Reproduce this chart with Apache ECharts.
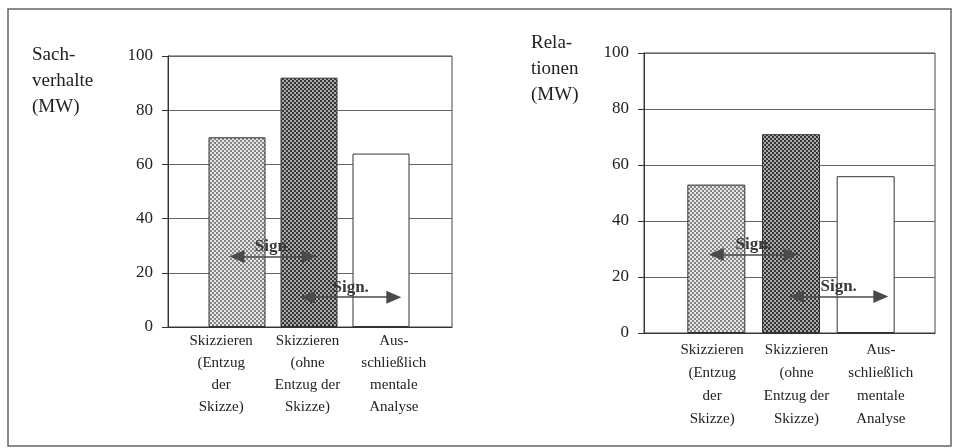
<!DOCTYPE html>
<html>
<head>
<meta charset="utf-8">
<script src="https://cdn.jsdelivr.net/npm/echarts@6/dist/echarts.min.js"></script>
<style>
html, body { margin: 0; padding: 0; background: #fff; }
#main { width: 954px; height: 448px; }
</style>
</head>
<body>
<div id="main"></div>
<script>
// data (MW = Mittelwert)
var categories = ['Skizzieren\n(Entzug\nder\nSkizze)', 'Skizzieren\n(ohne\nEntzug der\nSkizze)', 'Aus-\nschließlich\nmentale\nAnalyse'];
var sachverhalte = [70, 92, 64];
var relationen = [53, 71, 56];
var yMin = 0, yMax = 100, yStep = 20;
// height of the two "Sign." arrows in each panel
var sachSign = [26, 11];
var relSign = [28, 13];

var FONT = 'Liberation Serif';
var INK = '#222';

function dots(bg, fg) {
    var c = document.createElement('canvas');
    c.width = 4; c.height = 4;
    var g = c.getContext('2d');
    g.fillStyle = bg; g.fillRect(0, 0, 4, 4);
    g.fillStyle = fg; g.fillRect(0, 0, 2, 2); g.fillRect(2, 2, 2, 2);
    return { image: c, repeat: 'repeat' };
}
var fills = [dots('#e6e6e6', '#858585'), dots('#aaaaaa', '#363636'), '#ffffff'];

var option = {
    animation: false,
    backgroundColor: '#fff',
    title: [],
    grid: [], xAxis: [], yAxis: [], series: [],
    graphic: [{
        type: 'rect', silent: true,
        shape: { x: 8, y: 9, width: 943, height: 437 },
        style: { fill: 'none', stroke: '#666', lineWidth: 1.5 }
    }]
};

function signLine(a, b, v) {
    var ls = { color: '#4a4a4a', width: 1.5, type: 'solid' };
    return {
        silent: true,
        symbol: ['triangle', 'triangle'],
        symbolSize: [13, 15],
        lineStyle: ls,
        label: { show: true, position: 'middle', formatter: 'Sign.', color: '#3a3a3a', fontFamily: FONT, fontWeight: 'bold', fontSize: 17, distance: 1 },
        emphasis: { disabled: true },
        data: [[{ coord: [categories[a], v], lineStyle: ls }, { coord: [categories[b], v] }]]
    };
}

function panel(k, p, values, sign, name) {
    var gi = k * 3;
    option.title.push({
        text: name, left: p.titleX, top: p.titleY,
        textStyle: { fontFamily: FONT, fontSize: 19, fontWeight: 'normal', color: INK, lineHeight: 26 }
    });
    // frame with value axis + grid lines
    option.grid.push({ left: p.left, top: p.top, width: p.width, height: p.height, show: true, borderColor: '#444', borderWidth: 1, backgroundColor: 'transparent' });
    // grid only for category labels
    option.grid.push({ left: p.labLeft, top: p.top, width: p.labWidth, height: p.height });
    // grid for the bars
    option.grid.push({ left: p.barLeft, top: p.top, width: p.barWidth, height: p.height });

    option.xAxis.push({
        gridIndex: gi, type: 'category', data: categories,
        axisLine: { show: true, lineStyle: { color: '#333', width: 1 } },
        axisTick: { show: false }, axisLabel: { show: false }, splitLine: { show: false }
    });
    option.xAxis.push({
        gridIndex: gi + 1, type: 'category', data: categories,
        axisLine: { show: false }, axisTick: { show: false }, splitLine: { show: false },
        axisLabel: { show: true, interval: 0, margin: p.labMargin, color: INK, fontFamily: FONT, fontSize: 15, lineHeight: p.lineH, align: 'center' }
    });
    option.xAxis.push({ gridIndex: gi + 2, type: 'category', data: categories, show: false });

    option.yAxis.push({
        gridIndex: gi, type: 'value', min: yMin, max: yMax, interval: yStep,
        axisLine: { show: true, lineStyle: { color: '#333', width: 1 } },
        axisTick: { show: true, length: 6, lineStyle: { color: '#333' } },
        axisLabel: { margin: 15, color: INK, fontFamily: FONT, fontSize: 17 },
        splitLine: { show: true, lineStyle: { color: '#666', width: 1 } }
    });
    option.yAxis.push({ gridIndex: gi + 1, type: 'value', min: yMin, max: yMax, show: false });
    option.yAxis.push({ gridIndex: gi + 2, type: 'value', min: yMin, max: yMax, show: false });

    option.series.push({
        type: 'bar', xAxisIndex: gi + 2, yAxisIndex: gi + 2,
        barWidth: p.bw,
        data: values.map(function (v, i) {
            return { value: v, itemStyle: { color: fills[i], borderColor: '#333', borderWidth: 1 } };
        }),
        emphasis: { disabled: true },
        markLine: signLine(0, 1, sign[0])
    });
    option.series.push({
        type: 'bar', xAxisIndex: gi + 1, yAxisIndex: gi + 1,
        data: [],
        markLine: signLine(1, 2, sign[1])
    });
}

panel(0, {
    left: 168, top: 56, width: 284, height: 271,
    labLeft: 178, labWidth: 259, labMargin: 3, lineH: 22,
    barLeft: 201, barWidth: 216, bw: 57,
    titleX: 27, titleY: 37
}, sachverhalte, sachSign, 'Sach-\nverhalte\n(MW)');

panel(1, {
    left: 644, top: 53, width: 291, height: 280,
    labLeft: 670, labWidth: 253, labMargin: 6, lineH: 23,
    barLeft: 679, barWidth: 224, bw: 58,
    titleX: 526, titleY: 25
}, relationen, relSign, 'Rela-\ntionen\n(MW)');

var myChart = echarts.init(document.getElementById('main'));
myChart.setOption(option);
</script>
</body>
</html>
